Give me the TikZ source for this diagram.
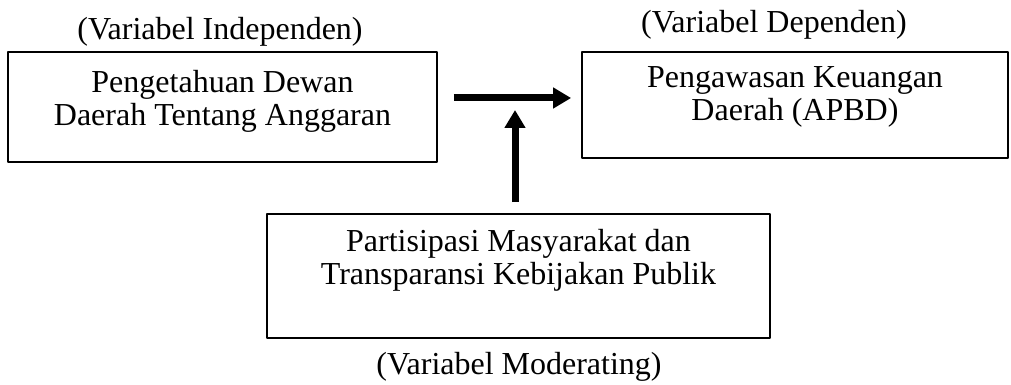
\documentclass[tikz,border=0pt]{standalone}
\usepackage{fontspec}
\setmainfont{Liberation Serif}
\usetikzlibrary{arrows.meta,positioning}

\begin{document}
\begin{tikzpicture}[x=1pt,y=1pt,>={Triangle[length=9pt,width=10pt]},line join=bevel,
  varbox/.style={draw,line width=0.9pt,inner sep=0pt},
  boxtext/.style={inner sep=0pt,align=center,font=\fontsize{16}{16.5}\selectfont},
  varlabel/.style={inner sep=0pt,font=\fontsize{16}{18}\selectfont},
  bigarrow/.style={->,line width=3.5pt}]
\useasboundingbox (0,0) rectangle (505.5,192.5);
% kotak variabel
\node[varbox,minimum width=214.5pt,minimum height=55pt] (pengetahuan) at (111.25,139) {};
\node[varbox,minimum width=213pt,minimum height=53pt] (pengawasan) at (397.5,140) {};
\node[varbox,minimum width=251.5pt,minimum height=62pt] (partisipasi) at (259.25,54.5) {};
\node[boxtext,below=9.5pt of pengetahuan.north] (pengetahuantext) {Pengetahuan Dewan\\Daerah Tentang Anggaran};
\node[boxtext,below=7.5pt of pengawasan.north] (pengawasantext) {Pengawasan Keuangan\\Daerah (APBD)};
\node[boxtext,below=8pt of partisipasi.north] (partisipasitext) {Partisipasi Masyarakat dan\\Transparansi Kebijakan Publik};
% keterangan
\node[varlabel] (independen) at (110,176.5) {(Variabel Independen)};
\node[varlabel] (dependen) at (387,180) {(Variabel Dependen)};
\node[varlabel] (moderating) at (259.5,9) {(Variabel Moderating)};
% panah
\coordinate (moderasi) at (257.5,143.5);
\draw[bigarrow,shorten <=8pt,shorten >=5pt] (pengetahuan.east |- moderasi) -- (pengawasan.west |- moderasi);
\draw[bigarrow,shorten <=5.5pt,shorten >=6pt] (partisipasi.north -| moderasi) -- (moderasi);
\end{tikzpicture}
\end{document}
